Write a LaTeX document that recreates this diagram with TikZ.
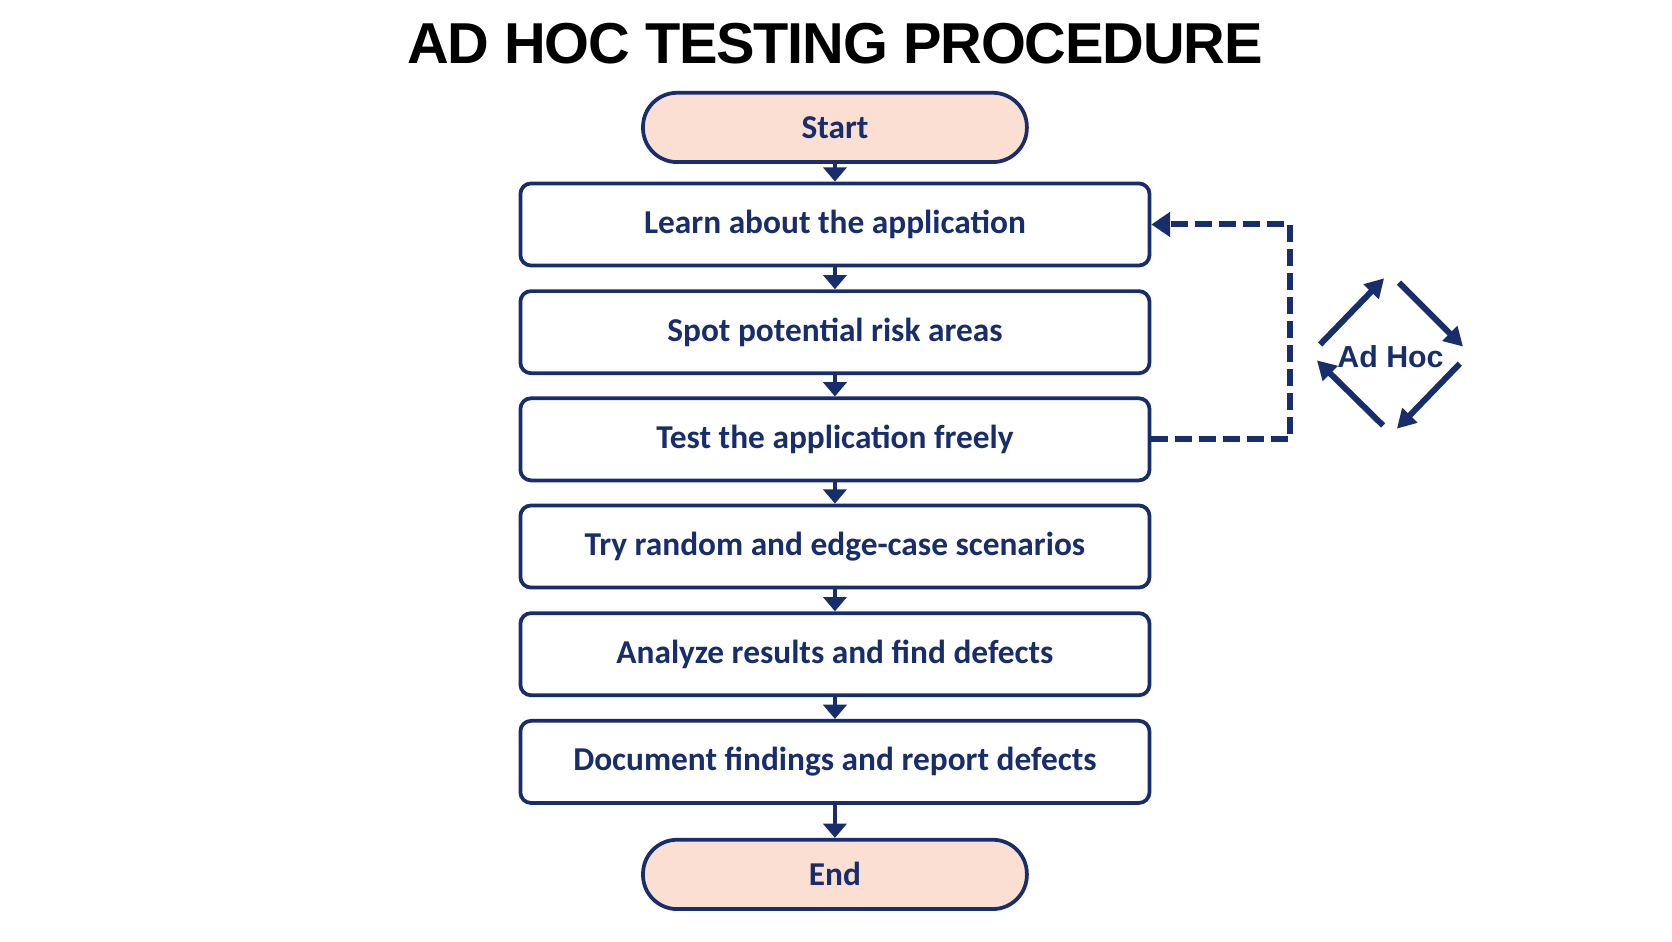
\documentclass[tikz,border=0pt]{standalone}
\usepackage{fontspec}
\usepackage{tikz}
\usetikzlibrary{arrows.meta}

\newfontfamily\titlefont[LetterSpace=-2]{Liberation Sans}
\newfontfamily\boxfont{Carlito}
\newfontfamily\tagfont{Liberation Sans}

\definecolor{navy}{RGB}{24,45,108}
\definecolor{peach}{RGB}{250,223,210}

\tikzset{
	stepbox/.style={draw=navy, line width=1pt, rounded corners=0.1cm, fill=white,
		minimum width=5.9cm, minimum height=0.77cm, text=navy,
		font=\boxfont\bfseries\fontsize{8.9}{11}\selectfont},
	termbox/.style={stepbox, fill=peach, rounded corners=0.32cm,
		minimum width=3.6cm, minimum height=0.65cm},
	flow/.style={draw=navy, line width=0.9pt, -{Triangle[length=3.8pt,width=6.2pt]}},
	loopback/.style={draw=navy, line width=1.6pt, dash pattern=on 4.5pt off 1.9pt,
		-{Triangle[length=5pt,width=6.4pt]}},
	cycle/.style={draw=navy, line width=1.6pt, -{Triangle[length=5pt,width=5.4pt]}}
}

\begin{document}
\begin{tikzpicture}
	\useasboundingbox[fill=white] (0,0) rectangle (15.68,-8.825);
	
	%title
	\node[anchor=base, inner sep=0pt] (title) at (7.83,-0.60)
		{\titlefont\bfseries\fontsize{15.4}{18}\selectfont AD HOC TESTING PROCEDURE};
	
	%flow chart
	\node[termbox] (start) at (7.83,-1.195) {Start};
	\node[stepbox] (learn) at (7.83,-2.105) {Learn about the application};
	\node[stepbox] (spot) at (7.83,-3.115) {Spot potential risk areas};
	\node[stepbox] (test) at (7.83,-4.12) {Test the application freely};
	\node[stepbox] (try) at (7.83,-5.125) {Try random and edge-case scenarios};
	\node[stepbox] (analyze) at (7.83,-6.135) {Analyze results and find defects};
	\node[stepbox] (document) at (7.83,-7.145) {Document findings and report defects};
	\node[termbox] (end) at (7.83,-8.2) {End};
	
	\draw[flow] (start) -- (learn);
	\draw[flow] (learn) -- (spot);
	\draw[flow] (spot) -- (test);
	\draw[flow] (test) -- (try);
	\draw[flow] (try) -- (analyze);
	\draw[flow] (analyze) -- (document);
	\draw[flow] (document) -- (end);
	
	%dashed loop back
	\draw[loopback] (test.east) -- ++(1.3,0) |- (learn.east);
	
	%ad hoc cycle
	\node[text=navy, font=\tagfont\bfseries\fontsize{8.1}{9}\selectfont] (adhoc) at (13.04,-3.34) {Ad Hoc};
	\coordinate (w1) at (12.38,-3.23);	\coordinate (n1) at (12.98,-2.61);
	\coordinate (n2) at (13.12,-2.65);	\coordinate (e1) at (13.72,-3.25);
	\coordinate (e2) at (13.69,-3.41);	\coordinate (s1) at (13.10,-4.02);
	\coordinate (s2) at (12.97,-3.99);	\coordinate (w2) at (12.35,-3.38);
	\draw[cycle] (w1) -- (n1);
	\draw[cycle] (n2) -- (e1);
	\draw[cycle] (e2) -- (s1);
	\draw[cycle] (s2) -- (w2);
\end{tikzpicture}
\end{document}
